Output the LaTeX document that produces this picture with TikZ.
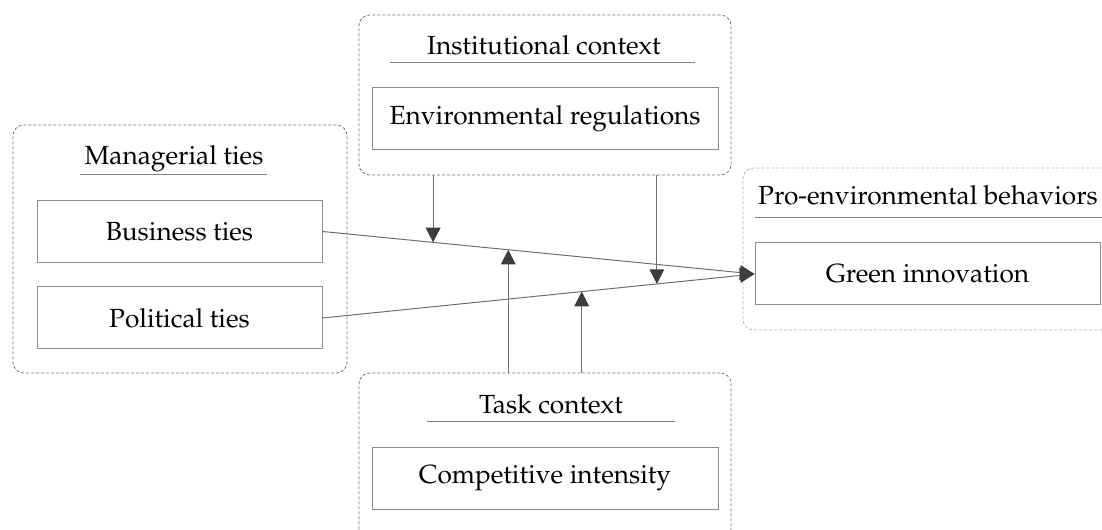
\documentclass[tikz,border=0pt]{standalone}
\usepackage[T1]{fontenc}
\usepackage{mathpazo}
\usetikzlibrary{arrows.meta}

\begin{document}
\begin{tikzpicture}[x=0.75pt,y=0.75pt,yscale=-1,xscale=1,
    every node/.style={font=\fontsize{19.7}{24}\selectfont, inner sep=0pt},
    group/.style={draw={rgb, 255:red, 112; green, 112; blue, 112}, dash pattern={on 2.25pt off 1.5pt}, rounded corners=8pt, line width=0.6pt},
    varbox/.style={draw={rgb, 255:red, 140; green, 140; blue, 140}, line width=0.75pt, minimum height=46.5pt},
    title/.style={anchor=base},
    uline/.style={draw={rgb, 255:red, 128; green, 128; blue, 128}, line width=0.75pt},
    link/.style={draw={rgb, 255:red, 110; green, 110; blue, 110}, line width=0.75pt, -{Triangle[length=11pt,width=11pt,color={rgb, 255:red, 60; green, 60; blue, 60}]}}
    ]
    \useasboundingbox (0,0) rectangle (1102,530);

    %Shape: Group frames
    \node [group, minimum width=279pt, minimum height=120pt] (inst) at (545,95) {};
    \node [group, minimum width=250.5pt, minimum height=186pt] (mgr) at (180,249) {};
    \node [group, draw={rgb, 255:red, 180; green, 180; blue, 180}, minimum width=282.75pt, minimum height=121.5pt] (pro) at (931.5,249) {};
    \node [group, minimum width=279pt, minimum height=129pt] (task) at (545,459) {};

    % Text Node
    \node [title] (instT) at (544,55) {Institutional context};
    \node [title] (mgrT) at (174,165) {Managerial ties};
    \node [title] (proT) at (928,205) {Pro-environmental behaviors};
    \node [title] (taskT) at (551,413) {Task context};

    %Straight Lines (title rules)
    \draw [uline] (390,63) -- (695,63) ;
    \draw [uline] (80,175) -- (267,175) ;
    \draw [uline] (755,218) -- (1102,218) ;
    \draw [uline] (427,422) -- (675,422) ;

    %Shape: Rectangle
    \node [varbox, minimum width=259.5pt] (er) at (545,119) {Environmental regulations};
    \node [varbox, minimum width=213.75pt] (bt) at (179.5,231.5) {Business ties};
    \node [varbox, minimum width=213.75pt] (pt) at (179.5,318) {Political ties};
    \node [varbox, minimum width=258.75pt] (gi) at (927.5,274) {Green innovation};
    \node [varbox, minimum width=259.5pt] (ci) at (545,478) {Competitive intensity};

    %Straight Lines (main effects)
    \draw [link] (bt.east) -- (gi.west) coordinate[pos=0.256] (m1) coordinate[pos=0.43] (m3) ;
    \draw [link] (pt.east) -- (gi.west) coordinate[pos=0.774] (m2) coordinate[pos=0.60] (m4) ;

    %Straight Lines (moderators)
    \draw [link] (m1 |- inst.south) -- (m1) ;
    \draw [link] (m2 |- inst.south) -- (m2) ;
    \draw [link] (m3 |- task.north) -- (m3) ;
    \draw [link] (m4 |- task.north) -- (m4) ;

\end{tikzpicture}
\end{document}
